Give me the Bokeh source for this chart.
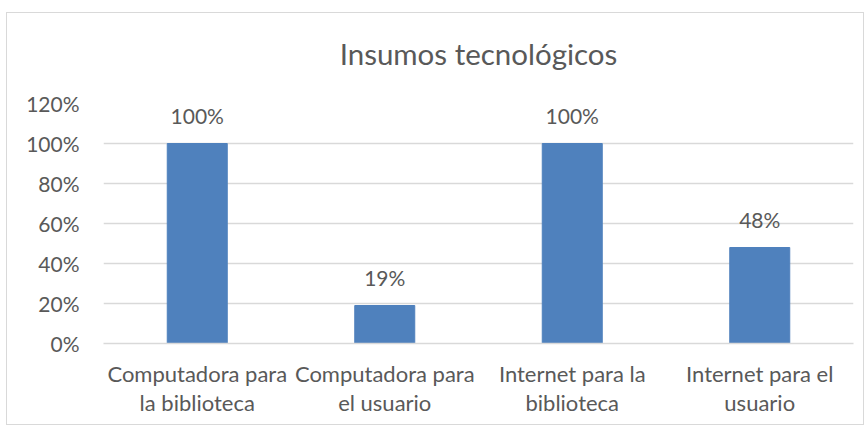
from bokeh.plotting import figure
from bokeh.models import (ColumnDataSource, LabelSet, Range1d, FactorRange, NumeralTickFormatter,
                          FixedTicker, CategoricalAxis, CustomJSTickFormatter, Title)
from bokeh.core.properties import value
from bokeh.embed import file_html
from bokeh.resources import INLINE

title_text = "Insumos tecnológicos"
categories = ["Computadora para la biblioteca", "Computadora para el usuario",
              "Internet para la biblioteca", "Internet para el usuario"]
label_line1 = ["Computadora para", "Computadora para", "Internet para la", "Internet para el"]
label_line2 = ["la biblioteca", "el usuario", "biblioteca", "usuario"]
values = [1.00, 0.19, 1.00, 0.48]
value_labels = ["100%", "19%", "100%", "48%"]
y_ticks = [0, 0.2, 0.4, 0.6, 0.8, 1.0, 1.2]

FONT = "Lato"
GREY = "#595959"

src = ColumnDataSource(dict(cat=categories, val=values, lab=value_labels))

p = figure(width=858, height=413, x_range=FactorRange(*categories, range_padding=0),
           y_range=Range1d(0, 1.2), output_backend="svg", toolbar_location=None,
           min_border_left=96, min_border_right=12, min_border_top=90, min_border_bottom=83)
p.x_range.factor_padding = 0
p.styles = {"border": "1px solid #d9d9d9", "margin": "12px 0 0 6px"}

p.vbar(x="cat", top="val", width=0.32, source=src, color="#4f81bd")

p.add_layout(LabelSet(x="cat", y="val", text="lab", source=src, y_offset=28,
                      text_align="center", text_baseline="middle",
                      text_font=value(FONT), text_font_size="21px", text_color=GREY))

# spacer (closest to the frame), then the real title above it
p.add_layout(Title(text=" ", text_font_size="1px", standoff=30), "above")
p.add_layout(Title(text=title_text, align="center", text_font=FONT, text_font_style="normal",
                   text_font_size="29.5px", text_color=GREY, standoff=0), "above")

p.outline_line_color = None
p.xgrid.grid_line_color = None
p.ygrid.grid_line_color = "#d9d9d9"
p.ygrid.grid_line_width = 1.3

p.yaxis.ticker = FixedTicker(ticks=y_ticks)
p.yaxis.formatter = NumeralTickFormatter(format="0%")
p.yaxis.axis_line_color = None
p.yaxis.major_tick_line_color = None
p.yaxis.minor_tick_line_color = None
p.yaxis.major_label_text_font = FONT
p.yaxis.major_label_text_font_size = "21px"
p.yaxis.major_label_text_color = GREY
p.yaxis.major_label_standoff = 18


def line_formatter(lines):
    return CustomJSTickFormatter(args=dict(cats=categories, labs=lines),
                                 code="const i = cats.indexOf(tick); return i >= 0 ? labs[i] : tick;")


xa1 = p.xaxis[0]
xa1.axis_line_color = "#d9d9d9"
xa1.axis_line_width = 1.3
xa1.major_tick_line_color = None
xa1.minor_tick_line_color = None
xa1.formatter = line_formatter(label_line1)
xa1.major_label_text_font = FONT
xa1.major_label_text_font_size = "22px"
xa1.major_label_text_color = GREY
xa1.major_label_standoff = 10

xa2 = CategoricalAxis(axis_line_color=None, major_tick_line_color=None,
                      minor_tick_line_color=None,
                      formatter=line_formatter(label_line2),
                      major_label_text_font=FONT, major_label_text_font_size="22px",
                      major_label_text_color=GREY, major_label_standoff=-7)
p.add_layout(xa2, "below")

open("out.html", "w").write(file_html(p, INLINE))
